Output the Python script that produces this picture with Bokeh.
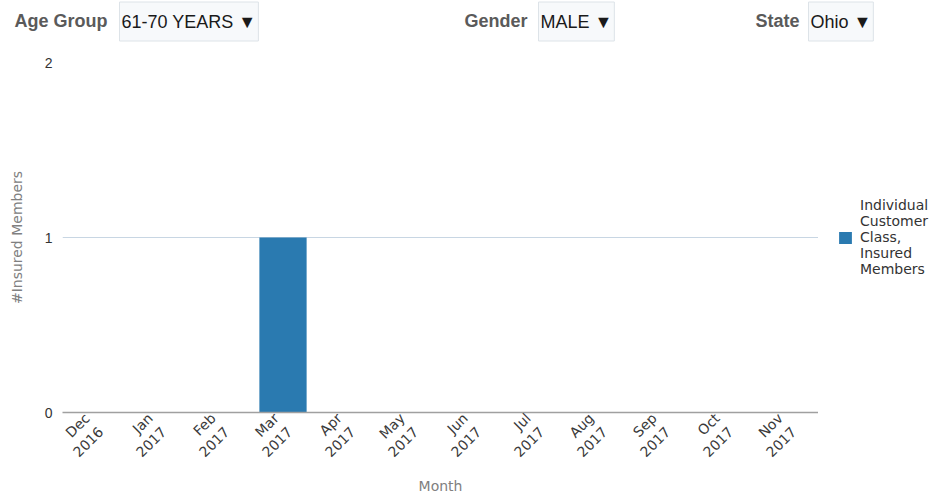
import math
from bokeh.plotting import figure
from bokeh.layouts import column, row
from bokeh.models import ColumnDataSource, FixedTicker, Legend, LegendItem, Label, Range1d, FactorRange
from bokeh.embed import file_html
from bokeh.resources import INLINE

# ---- data ----
months = ["Dec\n2016", "Jan\n2017", "Feb\n2017", "Mar\n2017", "Apr\n2017", "May\n2017",
          "Jun\n2017", "Jul\n2017", "Aug\n2017", "Sep\n2017", "Oct\n2017", "Nov\n2017"]
insured_members = [0, 0, 0, 1, 0, 0, 0, 0, 0, 0, 0, 0]
series_name = "Individual\nCustomer\nClass,\nInsured\nMembers"
y_ticks = [0, 1, 2]
grid_ticks = [1]
filter_names = ["Age Group", "Gender", "State"]
filter_values = ["61-70 YEARS \u25BC", "MALE \u25BC", "Ohio \u25BC"]

BAR = "#2a7ab0"
src = ColumnDataSource(dict(month=months, members=insured_members))

# ---------------- header (filter bar) ----------------
HW, HH = 930, 54
hdr = figure(width=HW, height=HH, x_range=Range1d(0, HW), y_range=Range1d(HH, 0),
             output_backend="svg", toolbar_location=None, tools="", min_border=0,
             x_axis_type=None, y_axis_type=None)
hdr.outline_line_color = None
hdr.xgrid.visible = False
hdr.ygrid.visible = False

label_x = [14, 464, 755]
box_x = [119, 538, 808]
for name, val, lx, bx in zip(filter_names, filter_values, label_x, box_x):
    hdr.add_layout(Label(x=lx, y=20, text=name,
                         text_font="Liberation Sans", text_font_size="18px", text_font_style="bold",
                         text_color="#5a5a5a", text_align="left", text_baseline="middle"))
    hdr.add_layout(Label(x=bx, y=21, text=val,
                         text_font="Liberation Sans", text_font_size="18px",
                         text_color="#1a1a1a", text_align="left", text_baseline="middle",
                         background_fill_color="#f7f9fb", border_line_color="#dde3e8",
                         padding=(2, 2, 10, 9)))

# ---------------- main chart ----------------
p = figure(frame_width=756, frame_height=350, x_range=FactorRange(*months), y_range=Range1d(0, 2),
           output_backend="svg", toolbar_location=None, tools="",
           min_border_left=62, min_border_right=0, min_border_top=8, min_border_bottom=77)
p.outline_line_color = None

r = p.vbar(x="month", top="members", width=0.75, source=src, color=BAR, line_color=None)

p.yaxis.ticker = FixedTicker(ticks=y_ticks)
p.yaxis.axis_line_color = None
p.yaxis.major_tick_line_color = None
p.yaxis.minor_tick_line_color = None
p.yaxis.major_label_text_font = "Liberation Sans"
p.yaxis.major_label_text_font_size = "14px"
p.yaxis.major_label_text_color = "#333333"
p.yaxis.major_label_standoff = 4
p.yaxis.axis_label = "#Insured Members"
p.yaxis.axis_label_text_font = "DejaVu Sans"
p.yaxis.axis_label_text_font_size = "14px"
p.yaxis.axis_label_text_font_style = "normal"
p.yaxis.axis_label_text_color = "#808080"
p.yaxis.axis_label_standoff = 17

p.xaxis.axis_line_color = "#a0a0a0"
p.xaxis.axis_line_width = 1.5
p.xaxis.major_tick_line_color = None
p.xaxis.minor_tick_line_color = None
p.xaxis.major_label_orientation = math.pi / 4
# a leading blank line centres the rotated two-line labels under their bars
p.xaxis.major_label_overrides = {m: "\n" + m for m in months}
p.xaxis.major_label_text_font = "DejaVu Sans"
p.xaxis.major_label_text_font_size = "14px"
p.xaxis.major_label_text_color = "#3a3a3a"
p.xaxis.major_label_standoff = 4
p.xaxis.axis_label = "Month"
p.xaxis.axis_label_text_font = "DejaVu Sans"
p.xaxis.axis_label_text_font_size = "14px"
p.xaxis.axis_label_text_font_style = "normal"
p.xaxis.axis_label_text_color = "#808080"
p.xaxis.axis_label_standoff = 2

p.xgrid.grid_line_color = None
p.ygrid.ticker = FixedTicker(ticks=grid_ticks)
p.ygrid.grid_line_color = "#c8d6e3"
p.ygrid.grid_line_width = 1

# ---------------- legend panel ----------------
leg = figure(frame_width=112, frame_height=366, x_range=FactorRange(*months), y_range=Range1d(5, 6),
             output_backend="svg", toolbar_location=None, tools="", min_border=0,
             x_axis_type=None, y_axis_type=None)
leg.outline_line_color = None
leg.xgrid.visible = False
leg.ygrid.visible = False
lr = leg.vbar(x="month", top="members", width=0.75, source=src, color=BAR, line_color=None)
legend = Legend(items=[LegendItem(label=series_name, renderers=[lr])],
                location="center_left", border_line_color=None, background_fill_alpha=0,
                glyph_width=16, glyph_height=15, label_text_font="DejaVu Sans",
                label_text_font_size="14px", label_text_color="#333333",
                label_standoff=7, padding=0, margin=19, spacing=0)
leg.add_layout(legend, "center")

layout = column(hdr, row(p, leg, spacing=0), spacing=0)

open("out.html", "w").write(file_html(layout, INLINE))
